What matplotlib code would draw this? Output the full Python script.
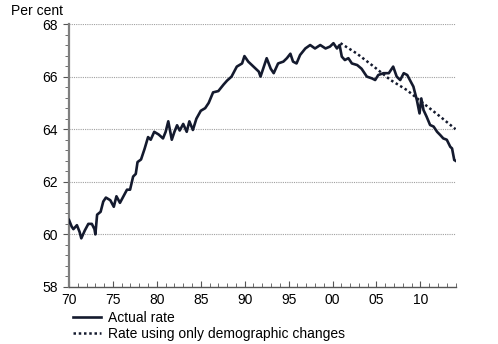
import matplotlib
matplotlib.use("Agg")
import matplotlib.pyplot as plt
from matplotlib.ticker import MultipleLocator

plt.rcParams['font.family'] = ['Liberation Sans', 'DejaVu Sans']

# Actual participation rate (year, per cent)
actual_years = [1970.0, 1970.3, 1970.5, 1970.9, 1971.2, 1971.4, 1971.8, 1972.2, 1972.6, 1972.9,
                1973.0, 1973.2, 1973.6, 1973.9, 1974.2, 1974.7, 1975.1, 1975.4, 1975.8, 1976.2,
                1976.6, 1976.95, 1977.3, 1977.6, 1977.8, 1978.2, 1978.6, 1979.0, 1979.3, 1979.7,
                1980.2, 1980.7, 1981.0, 1981.3, 1981.7, 1982.0, 1982.3, 1982.6, 1983.0, 1983.4,
                1983.7, 1984.1, 1984.5, 1985.0, 1985.5, 1985.9, 1986.4, 1987.0, 1987.6, 1988.0,
                1988.5, 1989.1, 1989.7, 1989.97, 1990.4, 1991.0, 1991.6, 1991.8, 1992.1, 1992.5,
                1992.96, 1993.3, 1993.8, 1994.4, 1994.8, 1995.2, 1995.5, 1995.9, 1996.3, 1996.9,
                1997.45, 1998.0, 1998.6, 1999.2, 1999.7, 2000.1, 2000.5, 2000.8, 2001.05, 2001.4,
                2001.8, 2002.2, 2002.8, 2003.3, 2003.9, 2004.5, 2004.85, 2005.2, 2005.8, 2006.4,
                2006.9, 2007.3, 2007.7, 2008.1, 2008.5, 2008.8, 2009.2, 2009.6, 2009.9, 2010.1,
                2010.35, 2010.7, 2011.1, 2011.5, 2011.9, 2012.25, 2012.6, 2013.0, 2013.4, 2013.6,
                2013.85, 2014.0]
actual_rate = [60.55, 60.3, 60.2, 60.35, 60.1, 59.85, 60.15, 60.4, 60.4, 60.2,
               60.0, 60.75, 60.86, 61.25, 61.4, 61.3, 61.05, 61.45, 61.2, 61.45,
               61.7, 61.7, 62.2, 62.3, 62.75, 62.85, 63.25, 63.7, 63.6, 63.9,
               63.8, 63.65, 63.9, 64.3, 63.6, 63.9, 64.15, 63.95, 64.2, 63.9,
               64.3, 63.97, 64.4, 64.7, 64.8, 65.0, 65.4, 65.45, 65.7, 65.85,
               66.0, 66.38, 66.5, 66.78, 66.57, 66.38, 66.19, 66.0, 66.3, 66.7,
               66.3, 66.13, 66.5, 66.57, 66.7, 66.87, 66.57, 66.5, 66.82, 67.07,
               67.2, 67.07, 67.2, 67.07, 67.14, 67.27, 67.07, 67.2, 66.76, 66.63,
               66.7, 66.5, 66.44, 66.3, 66.0, 65.93, 65.87, 66.06, 66.13, 66.13,
               66.38, 66.0, 65.87, 66.13, 66.06, 65.87, 65.62, 65.1, 64.6, 65.17,
               64.73, 64.48, 64.16, 64.1, 63.9, 63.78, 63.65, 63.6, 63.33, 63.27,
               62.83, 62.8]

# Rate using only demographic changes
demo_years = [2000.9, 2002.75, 2004.7, 2006.6, 2008.45, 2010.35, 2012.25, 2014.0]
demo_rate = [67.27, 66.88, 66.38, 65.87, 65.49, 64.98, 64.48, 64.0]

xtick_years = [1970, 1975, 1980, 1985, 1990, 1995, 2000, 2005, 2010]
xtick_labels = ['70', '75', '80', '85', '90', '95', '00', '05', '10']
ytick_values = [58, 60, 62, 64, 66, 68]

fig = plt.figure(figsize=(4.98, 3.44), dpi=100)
ax = fig.add_axes([69/498, 1-287/344, (456-69)/498, (287-24)/344])

ax.plot(actual_years, actual_rate, color='#141a2e', lw=1.9, solid_joinstyle='round',
        label='Actual rate', zorder=3)
ax.plot(demo_years, demo_rate, color='#141a2e', lw=1.8, linestyle=(0, (1, 1.1)),
        label='Rate using only demographic changes', zorder=2)

ax.set_xlim(1970, 2014.05)
ax.set_ylim(58, 68)
ax.set_xticks(xtick_years)
ax.set_xticklabels(xtick_labels)
ax.xaxis.set_minor_locator(MultipleLocator(1))
ax.set_yticks(ytick_values)
ax.yaxis.set_minor_locator(MultipleLocator(0.4))

for v in ytick_values[1:]:
    ax.axhline(v, color='#a0a0a0', lw=0.8, linestyle=(0, (1, 1)), zorder=1)

for s in ['top', 'right']:
    ax.spines[s].set_visible(False)
ax.spines['left'].set_color('#7f7f7f')
ax.spines['left'].set_linewidth(1.6)
ax.spines['bottom'].set_color('#555555')
ax.spines['bottom'].set_linewidth(1.0)

ax.tick_params(axis='y', which='both', direction='out', color='#555555', labelsize=10,
               pad=4)
ax.tick_params(axis='y', which='major', length=4)
ax.tick_params(axis='y', which='minor', length=3)
ax.tick_params(axis='x', which='both', direction='in', color='#555555', labelsize=10, pad=4)
ax.tick_params(axis='x', which='major', length=4)
ax.tick_params(axis='x', which='minor', length=3)

fig.text(11/498, 1-11/344, 'Per cent', fontsize=10, va='center', ha='left')

leg = fig.legend(loc='upper left', bbox_to_anchor=(73/498, 1-311/344), frameon=False,
                 fontsize=10, handlelength=2.0, handletextpad=0.5, labelspacing=0.12,
                 borderaxespad=0, borderpad=0)

fig.savefig('out.png', dpi=100)
